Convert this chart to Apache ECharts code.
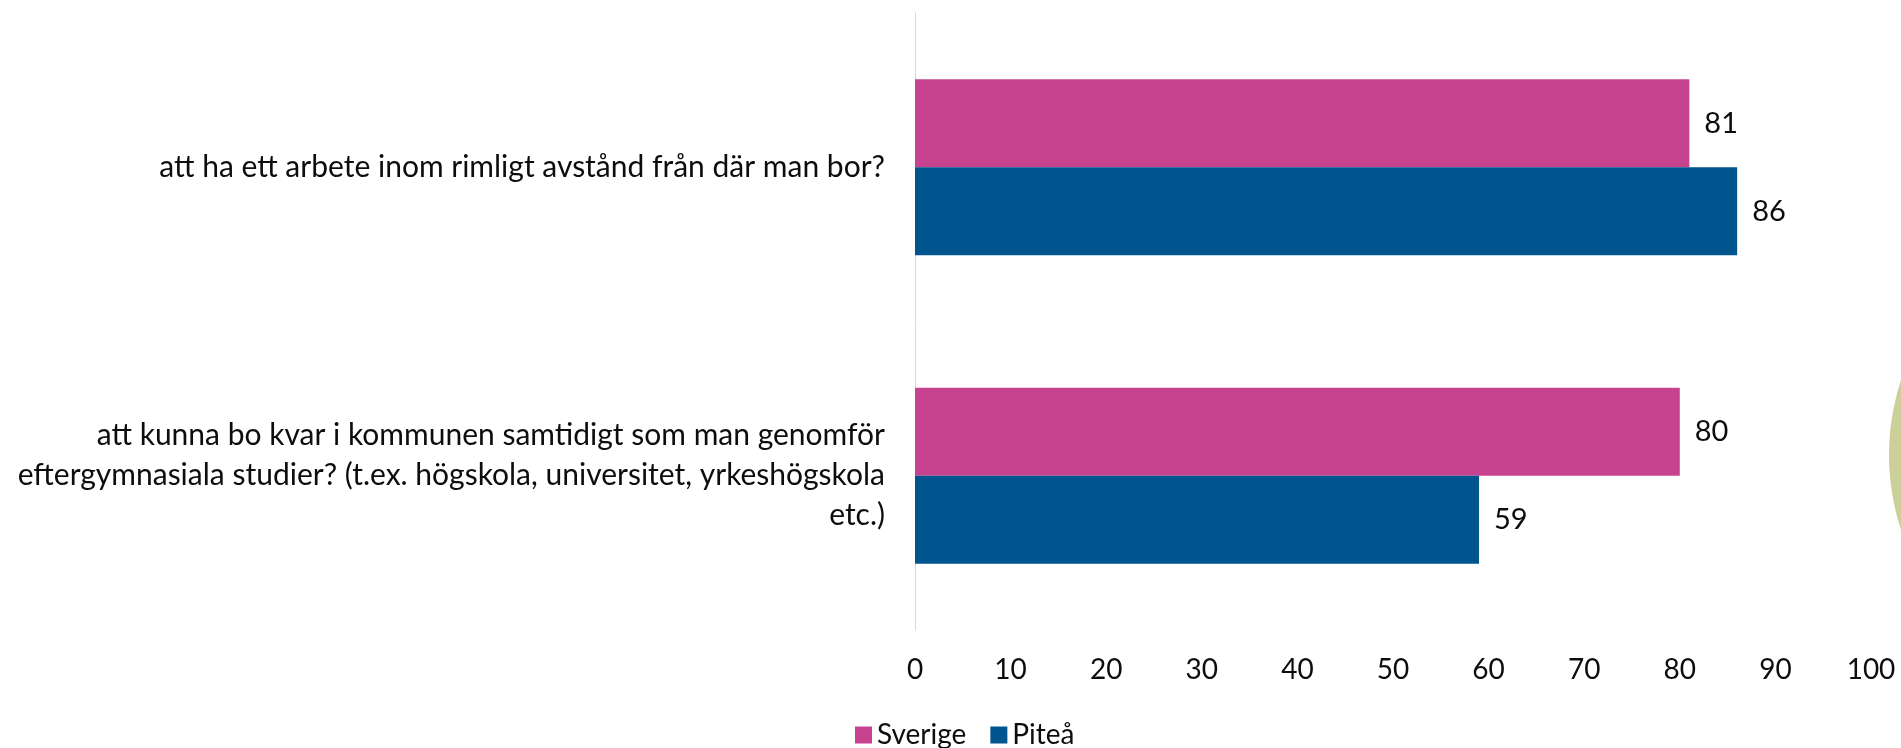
<!DOCTYPE html>
<html>
<head>
<meta charset="utf-8">
<script src="https://cdn.jsdelivr.net/npm/echarts@6/dist/echarts.min.js"></script>
<style>html,body{margin:0;padding:0;background:#fff}#c{width:1901px;height:748px}</style>
</head>
<body>
<div id="c"></div>
<script>
const categories = [
  'att ha ett arbete inom rimligt avstånd från där man bor?',
  'att kunna bo kvar i kommunen samtidigt som man genomför\neftergymnasiala studier? (t.ex. högskola, universitet, yrkeshögskola\netc.)'
];
const seriesNames = ['Sverige', 'Piteå'];
const sverige = [81, 80];
const pitea = [86, 59];

const FONT = 'Lato';
const TXT = '#0d0d0d';
const chart = echarts.init(document.getElementById('c'), null, {renderer: 'canvas'});
chart.setOption({
  animation: false,
  backgroundColor: '#ffffff',
  textStyle: {fontFamily: FONT},
  graphic: [{
    type: 'circle', z: -10, silent: true,
    shape: {cx: 2129, cy: 455, r: 240},
    style: {fill: '#CDCF98'}
  }],
  grid: {left: 915, right: 30, top: 13, bottom: 118, containLabel: false},
  legend: {
    data: seriesNames, left: 850, top: 716,
    itemWidth: 17, itemHeight: 17, itemGap: 24,
    icon: 'rect',
    textStyle: {fontFamily: FONT, fontSize: 28, color: TXT}
  },
  xAxis: {
    type: 'value', min: 0, max: 100, interval: 10,
    axisLine: {show: false}, axisTick: {show: false}, splitLine: {show: false},
    axisLabel: {fontFamily: FONT, fontSize: 28, color: TXT, margin: 26}
  },
  yAxis: {
    type: 'category', inverse: true, data: categories,
    axisLine: {show: true, lineStyle: {color: '#D9D9D9', width: 1}},
    axisTick: {show: false},
    axisLabel: {fontFamily: FONT, fontSize: 30, color: TXT, margin: 30, lineHeight: 40, align: 'right'}
  },
  series: [
    {name: seriesNames[0], type: 'bar', data: sverige, barGap: '0%', barCategoryGap: '43%',
     itemStyle: {color: '#C8438F'},
     label: {show: true, position: 'right', distance: 15, fontFamily: FONT, fontSize: 29, color: TXT}},
    {name: seriesNames[1], type: 'bar', data: pitea, barGap: '0%', barCategoryGap: '43%',
     itemStyle: {color: '#01558E'},
     label: {show: true, position: 'right', distance: 15, fontFamily: FONT, fontSize: 29, color: TXT}}
  ]
});
</script>
</body>
</html>
